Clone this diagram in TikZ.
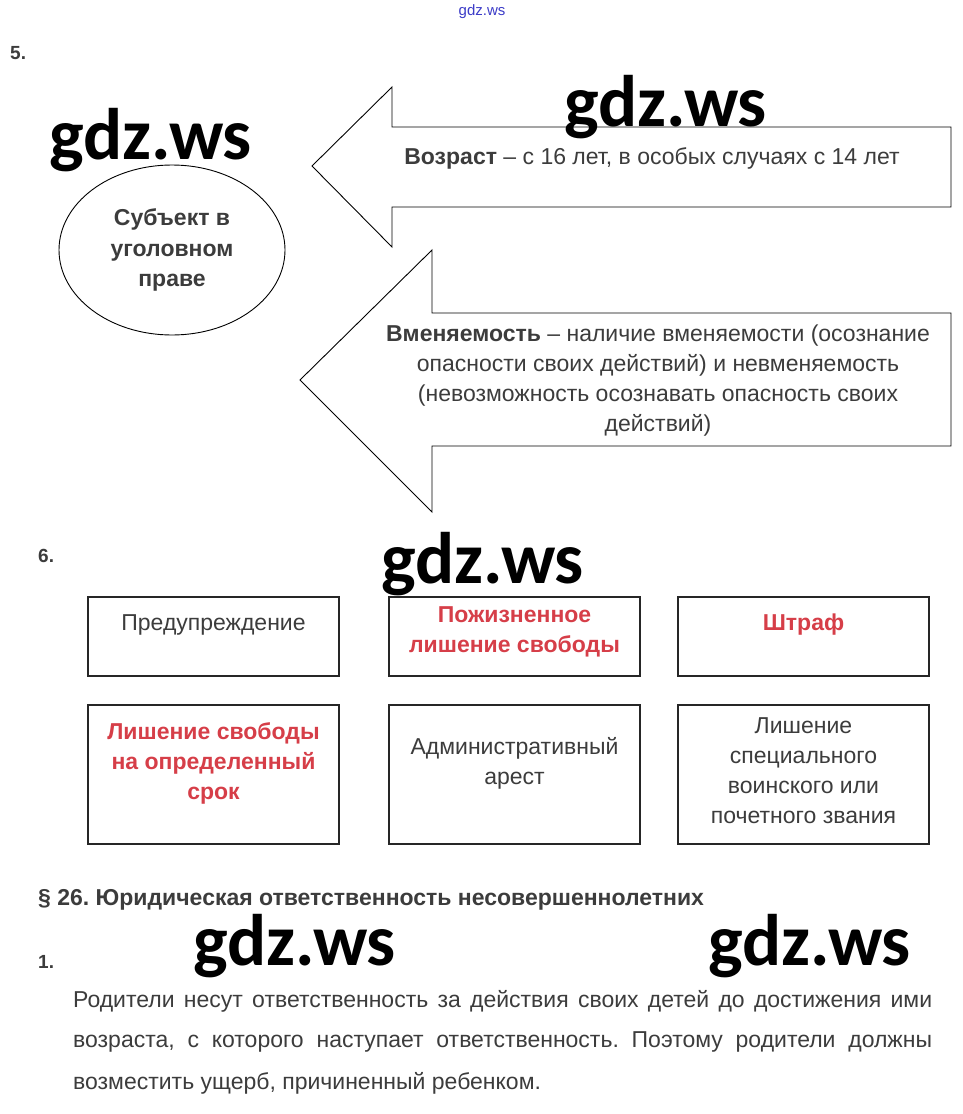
\documentclass[tikz,border=0pt]{standalone}
\usepackage{fontspec}
\setmainfont{Liberation Sans}
\newfontfamily\wmfont{Carlito}
\usetikzlibrary{shapes.geometric}
\frenchspacing
\definecolor{tgray}{RGB}{60,60,60}
\definecolor{tred}{RGB}{214,62,72}
\definecolor{wblue}{RGB}{60,60,200}
\begin{document}
\begin{tikzpicture}[x=1pt,y=-1pt,
  txt/.style={font=\fontsize{23}{30}\selectfont, text=tgray, align=center, inner sep=0pt},
  redtxt/.style={font=\fontsize{23}{30}\selectfont\bfseries, text=tred, align=center, inner sep=0pt},
  wmark/.style={font=\wmfont\bfseries\fontsize{73}{73}\selectfont, text=black, inner sep=0pt},
  numlab/.style={font=\fontsize{19}{20}\selectfont\bfseries, text=tgray, inner sep=0pt, anchor=west},
  paratxt/.style={font=\fontsize{23}{23}\selectfont, text=tgray, inner sep=0pt, anchor=base west},
  boxst/.style={draw=black!85, line width=1.3pt, minimum width=251pt, inner sep=0pt},
  arrowst/.style={draw=black, line width=0.9pt, fill=white, line join=miter}
]
\useasboundingbox[fill=white] (0,0) rectangle (963,1114);

% top small watermark
\node[font=\fontsize{15}{16}\selectfont, text=wblue, inner sep=0pt] (topwm) at (482,12) {gdz.ws};

% task 5
\node[numlab] (n5) at (10,53) {5.};

% arrows
\draw[arrowst] (312,166) -- (392,87) -- (392,127) -- (951,127) -- (951,207) -- (392,207) -- (392,247) -- cycle;
\draw[arrowst] (300,380) -- (432,250) -- (432,313) -- (951,313) -- (951,446) -- (432,446) -- (432,512) -- cycle;

\node[txt] (age) at (652,158) {\textbf{Возраст} – с 16 лет, в особых случаях с 14 лет};
\node[txt] (sanity) at (658,381) {\textbf{Вменяемость} – наличие вменяемости (осознание\\опасности своих действий) и невменяемость\\(невозможность осознавать опасность своих\\действий)};

\node[draw=black, line width=0.9pt, ellipse, minimum width=226pt, minimum height=170pt, inner sep=0pt,
  font=\fontsize{23}{30.5}\selectfont\bfseries, text=tgray, align=center] (subj) at (172,250) {Субъект в\\уголовном\\праве};

% task 6
\node[numlab] (n6) at (38,556) {6.};

\node[boxst, minimum height=79pt] (b1) at (213.5,636.5) {};
\node[boxst, minimum height=79pt] (b2) at (514.5,636.5) {};
\node[boxst, minimum height=79pt] (b3) at (803.5,636.5) {};
\node[boxst, minimum height=139pt] (b4) at (213.5,774.5) {};
\node[boxst, minimum height=139pt] (b5) at (514.5,774.5) {};
\node[boxst, minimum height=139pt] (b6) at (803.5,774.5) {};

\node[txt] (t1) at (213.5,625) {Предупреждение};
\node[redtxt] (t2) at (514.5,632) {Пожизненное\\лишение свободы};
\node[redtxt] (t3) at (803.5,625) {Штраф};
\node[redtxt] (t4) at (213.5,763.5) {Лишение свободы\\на определенный\\срок};
\node[txt] (t5) at (514.5,763) {Административный\\арест};
\node[txt] (t6) at (803.5,771) {Лишение\\специального\\воинского или\\почетного звания};

% section 26
\node[font=\fontsize{23}{24}\selectfont\bfseries, text=tgray, inner sep=0pt, anchor=west] (sec) at (38,900) {§ 26. Юридическая ответственность несовершеннолетних};
\node[numlab] (n1) at (38,962) {1.};

\node[paratxt] (p1) at (73,1007) {\makebox[859pt][s]{Родители несут ответственность за действия своих детей до достижения ими}};
\node[paratxt] (p2) at (73,1047) {\makebox[859pt][s]{возраста, с которого наступает ответственность. Поэтому родители должны}};
\node[paratxt] (p3) at (73,1089) {возместить ущерб, причиненный ребенком.};

% watermarks
\node[wmark] (wm1) at (151,140) {gdz.ws};
\node[wmark] (wm2) at (666,107) {gdz.ws};
\node[wmark] (wm3) at (483,564) {gdz.ws};
\node[wmark] (wm4) at (295,946) {gdz.ws};
\node[wmark] (wm5) at (810,946) {gdz.ws};
\end{tikzpicture}
\end{document}
